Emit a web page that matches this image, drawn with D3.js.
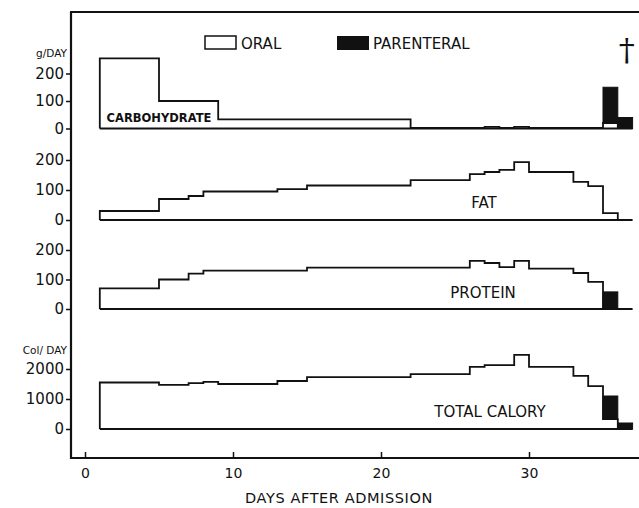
<!DOCTYPE html>
<html>
<head>
<meta charset="utf-8">
<script src="https://cdn.jsdelivr.net/npm/d3@7"></script>
<style>
  body { margin: 0; background: #fff; }
  text { font-family: 'DejaVu Sans', sans-serif; fill: #111; }
</style>
</head>
<body>
<div id="chart"></div>
<script>
// step boundaries (days) and oral values per step
const carbDays = [1, 5, 9, 22, 27, 28, 29, 30, 35, 36];
const carbOral = [255, 100, 33, 2, 6, 2, 6, 2, 20];
const carbParDays = [35, 36];
const carbPar = [130, 40];

const fatDays = [1, 5, 7, 8, 13, 15, 22, 26, 27, 28, 29, 30, 33, 34, 35, 36];
const fatOral = [30, 70, 80, 95, 103, 115, 133, 153, 160, 167, 193, 160, 127, 113, 23];
const fatParDays = [];
const fatPar = [];

const protDays = [1, 5, 7, 8, 15, 26, 27, 28, 29, 30, 33, 34, 35];
const protOral = [70, 100, 120, 130, 140, 163, 156, 142, 163, 137, 122, 92];
const protParDays = [35];
const protPar = [58];

const calDays = [1, 5, 7, 8, 9, 13, 15, 22, 26, 27, 29, 30, 33, 34, 35, 36];
const calOral = [1550, 1470, 1530, 1570, 1500, 1600, 1730, 1830, 2070, 2130, 2470, 2070, 1770, 1430, 330];
const calParDays = [35, 36];
const calPar = [770, 200];

const xTicks = [0, 10, 20, 30];
const gTicks = [0, 100, 200];
const calTicks = [0, 1000, 2000];

const width = 639, height = 508;
const svg = d3.select('#chart').append('svg')
  .attr('width', width)
  .attr('height', height);

const x = d3.scaleLinear().domain([0, 37]).range([85, 85 + 14.8 * 37]);

const panels = [
  { name: 'CARBOHYDRATE', days: carbDays, oral: carbOral, parDays: carbParDays, par: carbPar,
    y: d3.scaleLinear().domain([0, 200]).range([128.5, 73.5]), ticks: gTicks,
    label: { x: 159, y: 118, size: 11.5, weight: 'bold' } },
  { name: 'FAT', days: fatDays, oral: fatOral, parDays: fatParDays, par: fatPar,
    y: d3.scaleLinear().domain([0, 200]).range([220, 160]), ticks: gTicks,
    label: { x: 484, y: 203, size: 15, weight: 'normal' } },
  { name: 'PROTEIN', days: protDays, oral: protOral, parDays: protParDays, par: protPar,
    y: d3.scaleLinear().domain([0, 200]).range([309, 250]), ticks: gTicks,
    label: { x: 483, y: 293, size: 15, weight: 'normal' } },
  { name: 'TOTAL CALORY', days: calDays, oral: calOral, parDays: calParDays, par: calPar,
    y: d3.scaleLinear().domain([0, 2000]).range([429, 369]), ticks: calTicks,
    label: { x: 490, y: 412, size: 15, weight: 'normal' } }
];

//frame
svg.append('line').attr('x1', 71).attr('x2', 71).attr('y1', 12).attr('y2', 459)
  .attr('stroke', '#111').attr('stroke-width', 2.2);
svg.append('line').attr('x1', 70).attr('x2', 639).attr('y1', 12).attr('y2', 12)
  .attr('stroke', '#111').attr('stroke-width', 2);

const line = d3.line()
  .x(d => x(d[0]))
  .curve(d3.curveStepAfter);

panels.forEach(p => {
  const g = svg.append('g');

  //y axis ticks
  const yAxis = g.append('g')
    .attr('transform', 'translate(71,0)')
    .call(d3.axisLeft(p.y).tickValues(p.ticks).tickSize(5).tickPadding(2).tickFormat(d3.format('d')));
  yAxis.select('.domain').remove();
  yAxis.selectAll('line').attr('stroke', '#111').attr('stroke-width', 1.5);
  yAxis.selectAll('text')
    .style('font-family', "'DejaVu Sans', sans-serif")
    .style('font-size', '15px')
    .attr('fill', '#111');

  //baseline
  g.append('line')
    .attr('x1', x(1)).attr('x2', x(37))
    .attr('y1', p.y(0)).attr('y2', p.y(0))
    .attr('stroke', '#111').attr('stroke-width', 1.8);

  //oral outline
  const n = p.oral.length;
  const pts = [[p.days[0], 0]];
  for (let i = 0; i < n; i++) pts.push([p.days[i], p.oral[i]]);
  pts.push([p.days[n], p.oral[n - 1]]);
  pts.push([p.days[n], 0]);
  g.append('path')
    .datum(pts)
    .attr('d', line.y(d => p.y(d[1])))
    .attr('fill', 'none')
    .attr('stroke', '#111')
    .attr('stroke-width', 1.8);

  //parenteral bars stacked on oral value
  p.parDays.forEach((d, i) => {
    const k = p.days.indexOf(d);
    const base = k >= 0 && k < n ? p.oral[k] : 0;
    g.append('rect')
      .attr('x', x(d))
      .attr('width', x(d + 1) - x(d))
      .attr('y', p.y(base + p.par[i]))
      .attr('height', p.y(base) - p.y(base + p.par[i]))
      .attr('fill', '#111')
      .attr('stroke', '#111')
      .attr('stroke-width', 1);
  });

  g.append('text')
    .attr('x', p.label.x)
    .attr('y', p.label.y)
    .attr('text-anchor', 'middle')
    .attr('dominant-baseline', 'middle')
    .style('font-size', p.label.size + 'px')
    .style('font-weight', p.label.weight)
    .text(p.name);
});

//unit labels
svg.append('text').attr('x', 67).attr('y', 57).attr('text-anchor', 'end')
  .style('font-size', '10.5px').text('g/DAY');
svg.append('text').attr('x', 67).attr('y', 354).attr('text-anchor', 'end')
  .style('font-size', '10.5px').text('Col/ DAY');

//x axis
const xAxis = svg.append('g')
  .attr('transform', 'translate(0,458)')
  .call(d3.axisBottom(x).tickValues(xTicks).tickSize(-6).tickPadding(10));
xAxis.select('.domain').remove();
xAxis.selectAll('line').attr('stroke', '#111').attr('stroke-width', 1.5);
xAxis.selectAll('text')
  .style('font-family', "'DejaVu Sans', sans-serif")
  .style('font-size', '14px')
  .attr('fill', '#111');
svg.append('line').attr('x1', 70).attr('x2', 639).attr('y1', 458).attr('y2', 458)
  .attr('stroke', '#111').attr('stroke-width', 2.2);

svg.append('text')
  .attr('x', 339).attr('y', 503)
  .attr('text-anchor', 'middle')
  .style('font-size', '14.5px')
  .style('letter-spacing', '0.6px')
  .text('DAYS AFTER ADMISSION');

//legend
const legend = svg.append('g');
legend.append('rect').attr('x', 205).attr('y', 36).attr('width', 31).attr('height', 13)
  .attr('fill', '#fff').attr('stroke', '#111').attr('stroke-width', 1.5);
legend.append('text').attr('x', 241).attr('y', 49).style('font-size', '15px').text('ORAL');
legend.append('rect').attr('x', 337).attr('y', 36).attr('width', 32).attr('height', 14)
  .attr('fill', '#111');
legend.append('text').attr('x', 373).attr('y', 49).style('font-size', '15px').text('PARENTERAL');

//death marker
svg.append('text')
  .attr('x', x(36.6)).attr('y', 61)
  .attr('text-anchor', 'middle')
  .style('font-family', "'DejaVu Sans ExtraLight', 'DejaVu Serif', serif")
  .style('font-weight', '200')
  .style('font-size', '32px')
  .attr('fill', '#111')
  .text('\u2020\uFE0E');
</script>
</body>
</html>
